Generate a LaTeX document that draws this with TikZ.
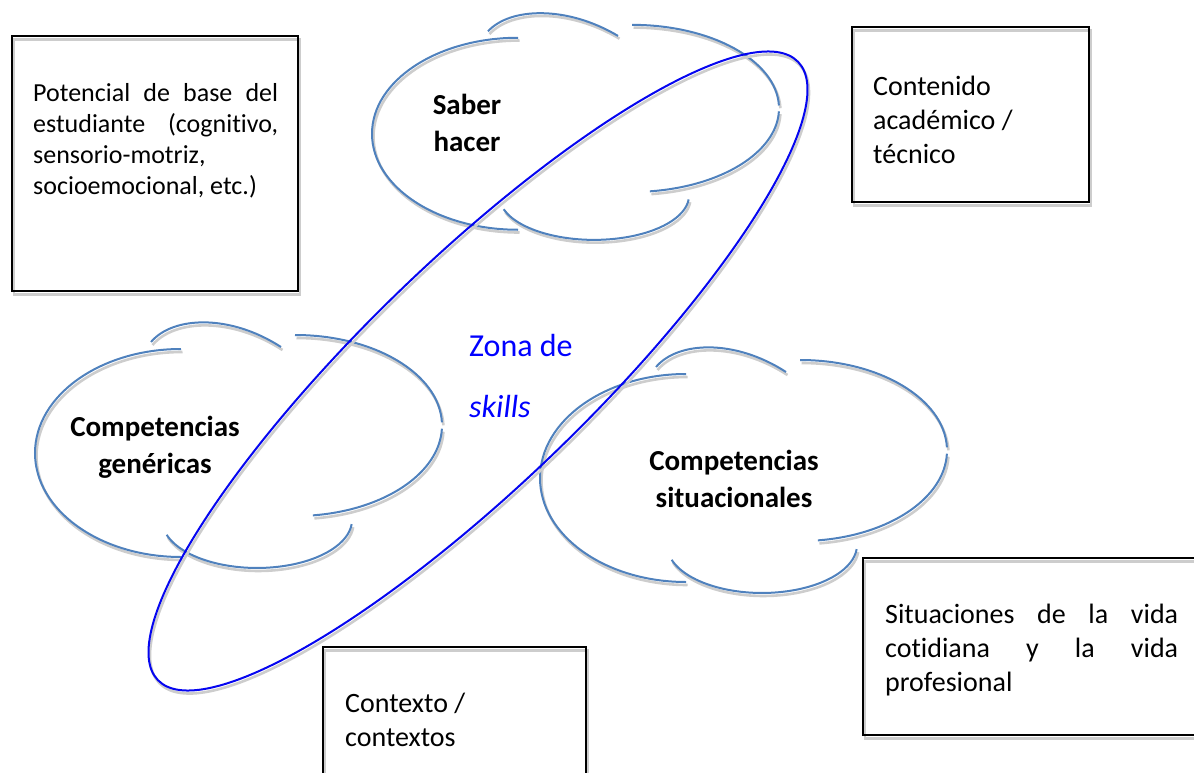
\documentclass[tikz,border=0pt]{standalone}
\usepackage{fontspec}
\setmainfont{Carlito}[Ligatures=CommonOff]
\definecolor{cloudblue}{RGB}{79,129,189}
\definecolor{zoneblue}{RGB}{5,5,240}
\definecolor{zonetext}{RGB}{0,0,255}
\definecolor{shade}{RGB}{205,205,205}
\tikzset{
  cloudline/.style={draw=cloudblue, line width=2pt},
  cloudshadow/.style={draw=shade, line width=2.6pt},
  zoneline/.style={draw=zoneblue, line width=2pt},
  zoneshadow/.style={draw=shade, line width=2.6pt},
  boxline/.style={draw=black, line width=1.6pt},
  boxshadow/.style={draw=shade, line width=2.2pt},
  txt/.style={inner sep=0pt, anchor=base west},
  ctxt/.style={inner sep=0pt, anchor=base},
  regtext/.style={font=\fontsize{28}{34}\selectfont},
  boldtext/.style={font=\fontsize{29}{37}\selectfont\bfseries},
}
\newcommand{\cloudarcs}[1]{%
  \draw[#1] (146,29) arc[start angle=270,end angle=90,x radius=146,y radius=104]
    (116,22) .. controls (138,-4) and (195,-6) .. (246,27)
    (260,15) arc[start angle=270,end angle=358,x radius=147,y radius=90.5]
    (406.9,108.7) arc[start angle=362,end angle=443,x radius=147,y radius=90.5]
    (131.65,214.8) arc[start angle=162,end angle=5,x radius=95,y radius=48];}
\newcommand{\drawcloud}[3]{%
  \begin{scope}[shift={(#1,#2)},yscale=#3]
    \cloudarcs{cloudshadow,shift={(1.5,3)}}
    \cloudarcs{cloudline}
  \end{scope}}
\begin{document}
\begin{tikzpicture}[x=1pt,y=-1pt]
\useasboundingbox (0,0) rectangle (1194,773);
\clip (0,0) rectangle (1194,773);
% boxes
\draw[boxshadow] (14,39.5) rectangle (300,294.5);
\draw[boxline] (12,36) rectangle (298,291);
\draw[boxshadow] (854,30.5) rectangle (1091,205.5);
\draw[boxline] (852,27) rectangle (1089,202);
\draw[boxshadow] (865,561.5) rectangle (1262,738.5);
\draw[boxline] (863,558) rectangle (1260,735);
\draw[boxshadow] (325,650.5) rectangle (588,843.5);
\draw[boxline] (323,647) rectangle (586,840);
% clouds
\drawcloud{372}{11}{0.923}
\drawcloud{35}{320}{1}
\drawcloud{540}{345}{1}
% zone of skills
\draw[zoneshadow, rotate around={44:(479.5,374)}] (479.5,374) ellipse[x radius=445, y radius=112];
\draw[zoneline, rotate around={44:(478,371)}] (478,371) ellipse[x radius=445, y radius=112];
% texts
\node[txt, font=\fontsize{26}{31}\selectfont] (potencial) at (33,102)
  {\parbox[t]{245pt}{\makebox[245pt][s]{Potencial de base del}\\
   \makebox[245pt][s]{estudiante (cognitivo,}\\
   sensorio-motriz,\\
   socioemocional, etc.)}};
\node[txt, regtext] (contenido) at (873,96)
  {\parbox[t]{210pt}{Contenido\\ académico /\\ técnico}};
\node[txt, regtext] (situaciones) at (885,623)
  {\parbox[t]{293pt}{\makebox[293pt][s]{Situaciones de la vida}\\
   \makebox[293pt][s]{cotidiana y la vida}\\
   profesional}};
\node[txt, regtext] (contexto) at (345,712)
  {\parbox[t]{230pt}{Contexto /\\ contextos}};
\node[ctxt, boldtext] (saber) at (467,115)
  {\parbox[t]{200pt}{\centering Saber\\ hacer}};
\node[ctxt, boldtext] (genericas) at (155,436)
  {\parbox[t]{220pt}{\centering Competencias\\ genéricas}};
\node[ctxt, boldtext] (situacionales) at (734,470)
  {\parbox[t]{220pt}{\centering Competencias\\ situacionales}};
\node[txt, text=zonetext, font=\fontsize{32}{61}\selectfont] (zona) at (469,356)
  {\parbox[t]{150pt}{Zona de\\ \textit{skills}}};
\end{tikzpicture}
\end{document}
